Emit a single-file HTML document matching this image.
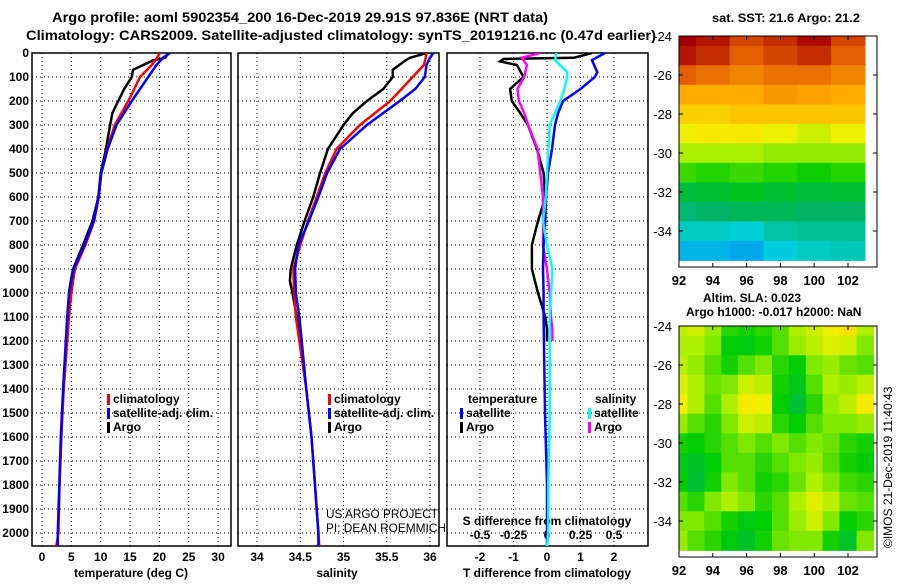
<!DOCTYPE html>
<html><head><meta charset="utf-8"><style>
body{margin:0;background:#fff}
svg text{font-family:"Liberation Sans",sans-serif;font-weight:bold}
</style></head><body>
<svg id="c" width="900" height="580" viewBox="0 0 900 580" xmlns="http://www.w3.org/2000/svg">
<text x="52" y="22" font-size="14" textLength="496" lengthAdjust="spacingAndGlyphs">Argo profile: aoml 5902354_200 16-Dec-2019 29.91S 97.836E (NRT data)</text>
<text x="26" y="40" font-size="14" textLength="630" lengthAdjust="spacingAndGlyphs">Climatology: CARS2009. Satellite-adjusted climatology: synTS_20191216.nc (0.47d earlier)</text>
<text x="712" y="22" font-size="12" textLength="148" lengthAdjust="spacingAndGlyphs">sat. SST: 21.6 Argo: 21.2</text>
<text x="703" y="302" font-size="12">Altim. SLA: 0.023</text>
<text x="686" y="316" font-size="12">Argo h1000: -0.017 h2000: NaN</text>
<text font-size="12" transform="translate(892,548) rotate(-90)" style="font-weight:normal">©IMOS 21-Dec-2019 11:40:43</text>
<g id="g"></g>
</svg>
<script>
// depth levels (dbar)
const depthT=[0,20,50,100,150,200,300,400,500,600,700,800,900,1000,1100,1400,1600,1800,2000,2060];
const tempClim=[20.1,19.6,18.7,16.7,15.7,14.7,12.4,11.1,10.1,9.7,8.9,7.4,5.6,5.0,4.6,3.7,3.3,3.0,2.8,2.4];
const tempSat=[21.8,20.6,19.5,18.1,16.7,15.3,12.7,11.2,10.1,9.6,8.8,7.2,5.4,4.6,4.3,3.6,3.2,2.95,2.7,2.7];
const depthA=[0,20,30,70,100,150,200,250,300,400,500,600,700,800,900,950,1000,1100,1200];
const tempArgo=[21.5,21.0,19.0,15.5,15.3,14.0,13.0,12.0,11.6,10.9,10.0,9.6,8.6,7.0,5.3,4.9,4.6,4.4,4.3];
const salClim=[35.96,35.95,35.93,35.80,35.67,35.54,35.19,34.92,34.79,34.69,34.59,34.50,34.42,34.43,34.45,34.57,34.63,34.67,34.71,34.72];
const salSat=[36.04,36.0,35.96,35.94,35.83,35.65,35.27,34.96,34.81,34.71,34.60,34.48,34.44,34.45,34.49,34.57,34.63,34.67,34.71,34.71];
const salArgo=[35.96,35.77,35.72,35.57,35.57,35.46,35.27,35.11,35.0,34.82,34.73,34.65,34.55,34.46,34.39,34.38,34.41,34.46,34.49];
const depthD=[0,20,25,35,50,100,150,200,250,300,400,500,600,700,800,900,1000,1100,1150,1200];
const tDiffArgo=[1.34,0.8,-1.3,-1.4,-0.9,-0.7,-1.1,-1.05,-0.8,-0.57,-0.3,-0.1,-0.05,-0.27,-0.45,-0.45,-0.27,-0.05,0.0,0.0];
const sDiffArgo=[-0.05,-0.19,-0.18,-0.17,-0.15,-0.17,-0.22,-0.21,-0.17,-0.14,-0.07,-0.05,-0.03,-0.03,-0.03,0.0,0.02,0.03,0.04,0.04];
const depthS=[0,30,80,100,150,200,250,300,400,500,600,700,800,900,1000,1100,1500,1800,2000,2060];
const tDiffSat=[1.73,1.34,1.5,1.43,1.0,0.48,0.33,0.24,0.15,0.03,-0.03,-0.05,-0.1,-0.12,-0.1,-0.1,-0.06,0.0,0.0,0.0];
const sDiffSat=[0.07,0.06,0.15,0.15,0.13,0.1,0.06,0.02,0.01,0.0,-0.01,-0.03,0.0,0.04,0.03,0.02,0.02,0.01,0.01,0.0];
const tempTicks=[0,5,10,15,20,25,30];
const salTicks=[34,34.5,35,35.5,36];
const salTickLabels=["34","34.5","35","35.5","36"];
const tdTicks=[-2,-1,0,1,2];
const sdTicks=[-0.5,-0.25,0,0.25,0.5];
const sdTickLabels=["-0.5","-0.25","0","0.25","0.5"];
const depthTicks=[0,100,200,300,400,500,600,700,800,900,1000,1100,1200,1300,1400,1500,1600,1700,1800,1900,2000];
const lonTicks=[92,94,96,98,100,102];
const latTicks=[-24,-26,-28,-30,-32,-34];
const sstGrid=[
[22.8,22.6,22.2,22.4,22.7,22.2],
[22.6,22.4,22.0,22.2,22.4,22.0],
[22.0,21.8,21.6,21.8,21.8,21.6],
[21.2,21.2,21.2,21.4,21.3,21.2],
[20.8,20.8,20.9,20.9,20.9,20.9],
[20.4,20.5,20.5,20.4,20.2,20.4],
[20.0,20.0,20.0,19.9,19.9,19.9],
[19.5,19.4,19.5,19.4,19.3,19.4],
[18.8,18.9,19.0,18.9,18.8,18.9],
[18.4,18.5,18.6,18.6,18.5,18.5],
[17.9,17.9,17.8,18.1,18.2,18.2],
[17.5,17.5,17.4,17.7,17.9,18.0]];
const slaGrid=[
[0.05,0.06,0.03,-0.02,-0.03,-0.02,0.0,0.04,0.06,0.08,0.1,0.04],
[0.04,0.04,0.02,-0.04,-0.05,-0.03,0.0,0.03,0.05,0.07,0.06,0.02],
[0.05,0.03,0.0,-0.03,0.0,0.02,-0.02,-0.04,0.02,0.03,0.01,0.0],
[0.07,0.04,0.01,0.02,0.06,0.05,-0.03,-0.06,0.0,0.04,0.03,0.05],
[0.08,0.04,0.0,0.04,0.09,0.08,-0.04,-0.08,-0.02,0.03,0.05,0.09],
[0.03,0.0,-0.02,0.02,0.06,0.05,-0.02,-0.04,0.0,0.02,0.02,0.03],
[-0.03,-0.04,-0.02,0.0,0.02,0.0,0.02,0.0,0.02,0.01,-0.02,-0.03],
[-0.05,-0.07,-0.04,0.0,0.0,-0.02,0.0,0.02,0.03,0.0,-0.03,-0.04],
[-0.04,-0.08,-0.03,0.02,0.0,-0.03,-0.02,0.01,0.04,0.02,-0.01,-0.02],
[0.0,-0.02,0.02,0.04,0.02,-0.02,0.0,0.04,0.07,0.05,0.01,0.0],
[0.02,0.02,0.0,-0.03,-0.05,-0.04,0.0,0.03,0.06,0.02,-0.04,-0.02],
[0.03,0.0,-0.02,-0.05,-0.07,-0.03,0.01,0.02,0.02,-0.03,-0.07,0.02]];

const NS="http://www.w3.org/2000/svg";
const G=document.getElementById('g');
function mk(tag,at,parent){const e=document.createElementNS(NS,tag);for(const k in at)e.setAttribute(k,at[k]);(parent||G).appendChild(e);return e;}
function txt(x,y,s,at){const e=mk('text',Object.assign({x:x,y:y,'font-size':12},at||{}));e.textContent=s;return e;}

const TOP=53,BOT=546;
const yD=d=>TOP+d*0.24;
const xT=v=>42+v*5.87;
const xS=v=>257+(v-34)*86.5;
const xTD=v=>547+v*33.5;
const xSD=v=>547+v*134;
const panels=[[32,231],[238,439],[447,648]];

panels.forEach((p,i)=>{
  const r=mk('rect',{x:p[0],y:TOP,width:p[1]-p[0],height:BOT-TOP,fill:'none',stroke:'#000','stroke-width':1.5});
  
  
  depthTicks.forEach(d=>{
    const l=mk('line',{x1:p[0],x2:p[1],y1:yD(d),y2:yD(d),stroke:'#000','stroke-dasharray':'1 3'});
    
    
  });
});
depthTicks.forEach(d=>{
  const t=txt(29,yD(d)+4,String(d),{'text-anchor':'end'});
  
  
});
function vgrid(ticks,fx){ticks.forEach(v=>{const l=mk('line',{x1:fx(v),x2:fx(v),y1:TOP,y2:BOT,stroke:'#000','stroke-dasharray':'1 3'});
  
  });}
vgrid(tempTicks,xT);vgrid(salTicks,xS);vgrid(tdTicks,xTD);
tempTicks.forEach(v=>{const t=txt(xT(v),561,String(v),{'text-anchor':'middle'});
  
  });
salTicks.forEach((v,i)=>{const t=txt(xS(v),561,salTickLabels[i],{'text-anchor':'middle'});
  
  });
tdTicks.forEach(v=>{const t=txt(xTD(v),561,String(v),{'text-anchor':'middle'});
  
  });
sdTicks.forEach((v,i)=>{const t=txt(xSD(v),539,sdTickLabels[i],{'text-anchor':'middle'});
  
  });
let t;
t=txt(131,577,'temperature (deg C)',{'text-anchor':'middle'});
t=txt(337,577,'salinity',{'text-anchor':'middle'});
t=txt(547,577,'T difference from climatology',{'text-anchor':'middle'});
t=txt(547,525,'S difference from climatology',{'text-anchor':'middle'});
t=txt(326,518,'US ARGO PROJECT',{style:'font-weight:normal',textLength:112,lengthAdjust:'spacingAndGlyphs'});
t=txt(326,532,'PI: DEAN ROEMMICH',{style:'font-weight:normal',textLength:120,lengthAdjust:'spacingAndGlyphs'});

function line(xs,ds,fx,color,name,clip){
  const pts=xs.map((v,i)=>fx(v).toFixed(1)+','+yD(ds[i]).toFixed(1)).join(' ');
  const l=mk('polyline',{points:pts,fill:'none',stroke:color,'stroke-width':2.5,'clip-path':clip});
  
  
}
panels.forEach((p,i)=>{const cp=mk('clipPath',{id:'cp'+i});mk('rect',{x:p[0],y:TOP,width:p[1]-p[0],height:BOT-TOP},cp);});
line(tempArgo,depthA,xT,'#000','temperature-argo-line','url(#cp0)');
line(tempClim,depthT,xT,'#f00','temperature-climatology-line','url(#cp0)');
line(tempSat,depthT,xT,'#00f','temperature-satellite-line','url(#cp0)');
line(salArgo,depthA,xS,'#000','salinity-argo-line','url(#cp1)');
line(salClim,depthT,xS,'#f00','salinity-climatology-line','url(#cp1)');
line(salSat,depthT,xS,'#00f','salinity-satellite-line','url(#cp1)');
line(tDiffArgo,depthD,xTD,'#000','t-diff-argo-line','url(#cp2)');
line(sDiffArgo,depthD,xSD,'#f0f','s-diff-argo-line','url(#cp2)');
line(tDiffSat,depthS,xTD,'#00f','t-diff-satellite-line','url(#cp2)');
line(sDiffSat,depthS,xSD,'#0ff','s-diff-satellite-line','url(#cp2)');

function legend(x,y,color,label,name){
  const r=mk('rect',{x:x,y:y-9,width:3,height:11,fill:color});
  
  
  const tt=txt(x+6,y,label);
  
  
}
legend(107,403,'#f00','climatology','legend-climatology');
legend(107,417,'#00f','satellite-adj. clim.','legend-satellite-adj');
legend(107,431,'#000','Argo','legend-argo');
legend(328,403,'#f00','climatology','legend-climatology-sal');
legend(328,417,'#00f','satellite-adj. clim.','legend-satellite-adj-sal');
legend(328,431,'#000','Argo','legend-argo-sal');
t=txt(468,403,'temperature');
legend(460,417,'#00f','satellite','legend-t-satellite');
legend(460,431,'#000','Argo','legend-t-argo');
t=txt(595,403,'salinity');
legend(588,417,'#0ff','satellite','legend-s-satellite');
legend(588,431,'#f0f','Argo','legend-s-argo');

const stops=[[0,[0,0,140]],[0.2,[0,120,255]],[0.3,[0,210,220]],[0.4,[0,180,100]],[0.5,[0,205,0]],[0.6,[170,240,0]],[0.66,[245,240,0]],[0.76,[255,170,0]],[0.86,[230,100,0]],[0.97,[165,0,0]],[1,[140,0,0]]];
function cmap(v){v=Math.max(0,Math.min(1,v));for(let i=1;i<stops.length;i++){if(v<=stops[i][0]){const a=stops[i-1],b=stops[i],f=(v-a[0])/(b[0]-a[0]);return 'rgb('+a[1].map((c,k)=>Math.round(c+(b[1][k]-c)*f)).join(',')+')';}}return 'rgb(140,0,0)';}

const MX0=679,MX1=877;
const xLon=l=>679+(l-92)*16.9;
function map(top,bot,grid,norm,name,lonStep){
  const yLat=l=>top+(-24-l)*19.5;
  const cp=mk('clipPath',{id:'cl'+name});mk('rect',{x:MX0,y:top,width:MX1-MX0,height:bot-top},cp);
  const g=mk('g',{'clip-path':'url(#cl'+name+')'});
  grid.forEach((row,r)=>row.forEach((v,c)=>{
    const lat=-24+0.5-r,lon=92-lonStep/2+c*lonStep;
    const x0=xLon(lon),y0=yLat(lat);
    const rc=mk('rect',{x:x0.toFixed(1),y:y0.toFixed(1),width:(lonStep*16.9+0.6).toFixed(1),height:20.1,fill:cmap(norm(v))},g);
    
    
  }));
  const fr=mk('rect',{x:MX0,y:top,width:MX1-MX0,height:bot-top,fill:'none',stroke:'#000','stroke-width':1});
  
  
  latTicks.forEach(l=>{const tt=txt(672,yLat(l)+5,String(l),{'text-anchor':'end','font-size':13,style:'font-weight:normal'});
    
    
    mk('line',{x1:MX0,x2:MX0+4,y1:yLat(l),y2:yLat(l),stroke:'#000'});mk('line',{x1:MX1-4,x2:MX1,y1:yLat(l),y2:yLat(l),stroke:'#000'});});
  lonTicks.forEach(l=>{const tt=txt(xLon(l),bot+18,String(l),{'text-anchor':'middle','font-size':13});
    
    
    mk('line',{x1:xLon(l),x2:xLon(l),y1:top,y2:top+4,stroke:'#000'});mk('line',{x1:xLon(l),x2:xLon(l),y1:bot-4,y2:bot,stroke:'#000'});});
}
map(36,267,sstGrid,v=>(v-15.5)/7.5,'sst-map',2);
map(326,557,slaGrid,v=>0.55+v*1.3,'sla-map',1);
</script>
</body></html>
